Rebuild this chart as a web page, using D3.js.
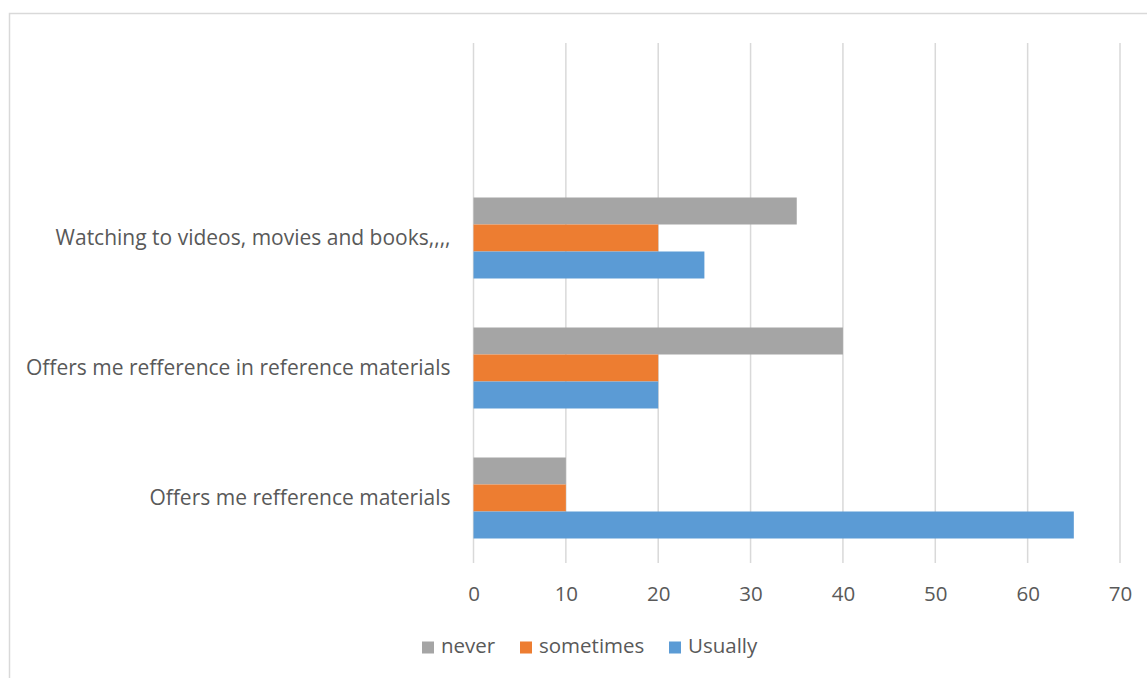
<!DOCTYPE html>
<html>
<head>
<meta charset="utf-8">
<script src="https://cdn.jsdelivr.net/npm/d3@7"></script>
<style>
  html, body { margin: 0; padding: 0; background: #fff; }
  svg { display: block; }
  text { font-family: "Open Sans", "Noto Sans", sans-serif; fill: #595959; }
</style>
</head>
<body>
<svg id="chart" width="1147" height="678"></svg>
<script>
// Categories listed top to bottom; the first slot is an empty row.
const categories = [
  "",
  "Watching to videos, movies and books,,,,",
  "Offers me refference in reference materials",
  "Offers me refference materials"
];
const seriesNames = ["never", "sometimes", "Usually"];
const neverValues = [null, 35, 40, 10];
const sometimesValues = [null, 20, 20, 10];
const usuallyValues = [null, 25, 20, 65];
const xTicks = [0, 10, 20, 30, 40, 50, 60, 70];

const colors = { never: "#A5A5A5", sometimes: "#ED7D31", Usually: "#5B9BD5" };
const seriesValues = { never: neverValues, sometimes: sometimesValues, Usually: usuallyValues };
const fontSize = "20.5px";

const svg = d3.select("#chart");

// Outer chart frame (extends past the visible window on right and bottom)
svg.append("rect")
  .attr("x", 9.5).attr("y", 13.5)
  .attr("width", 1160).attr("height", 700)
  .attr("fill", "none")
  .attr("stroke", "#d9d9d9")
  .attr("stroke-width", 1.5);

const plot = { left: 473.5, right: 1120, top: 43, bottom: 563 };

const x = d3.scaleLinear().domain([0, 70]).range([plot.left, plot.right]);

const y = d3.scaleBand()
  .domain(categories)
  .range([plot.top, plot.bottom])
  .paddingInner(0.377)
  .paddingOuter(0.1885);

const ySub = d3.scaleBand()
  .domain(seriesNames)
  .range([0, y.bandwidth()]);

// Vertical gridlines
svg.append("g")
  .selectAll("line")
  .data(xTicks)
  .join("line")
  .attr("x1", d => x(d)).attr("x2", d => x(d))
  .attr("y1", plot.top).attr("y2", plot.bottom)
  .attr("stroke", "#d9d9d9")
  .attr("stroke-width", 1.5);

// Bars
const rows = [];
categories.forEach((c, i) => {
  seriesNames.forEach(s => {
    const v = seriesValues[s][i];
    if (v != null) rows.push({ cat: c, series: s, value: v });
  });
});

svg.append("g")
  .selectAll("rect")
  .data(rows)
  .join("rect")
  .attr("x", x(0))
  .attr("y", d => y(d.cat) + ySub(d.series))
  .attr("width", d => x(d.value) - x(0))
  .attr("height", ySub.bandwidth())
  .attr("fill", d => colors[d.series]);

// X axis tick labels
const xAxis = d3.axisBottom(x).tickValues(xTicks).tickSize(0).tickPadding(0);
const gx = svg.append("g")
  .attr("transform", `translate(0, 601)`)
  .call(xAxis);
gx.select(".domain").remove();
gx.selectAll("text")
  .attr("dy", 0)
  .style("font-size", fontSize)
  .style("font-family", "\"Open Sans\", sans-serif")
  .attr("fill", "#595959");

// Category labels
const yAxis = d3.axisLeft(y).tickSize(0).tickPadding(0);
const gy = svg.append("g")
  .attr("transform", `translate(${plot.left - 23}, 0)`)
  .call(yAxis);
gy.select(".domain").remove();
gy.selectAll("text")
  .style("font-size", "21px")
  .style("font-family", "\"Open Sans\", sans-serif")
  .attr("fill", "#595959");

// Legend
const legendItems = [
  { name: "never", x: 422 },
  { name: "sometimes", x: 520 },
  { name: "Usually", x: 669 }
];
const legend = svg.append("g");
const li = legend.selectAll("g").data(legendItems).join("g")
  .attr("transform", d => `translate(${d.x}, 647.5)`);
li.append("rect")
  .attr("x", 0).attr("y", -6)
  .attr("width", 12).attr("height", 12)
  .attr("fill", d => colors[d.name]);
li.append("text")
  .attr("x", 19).attr("y", 5.5)
  .style("font-size", fontSize)
  .text(d => d.name);
</script>
</body>
</html>
